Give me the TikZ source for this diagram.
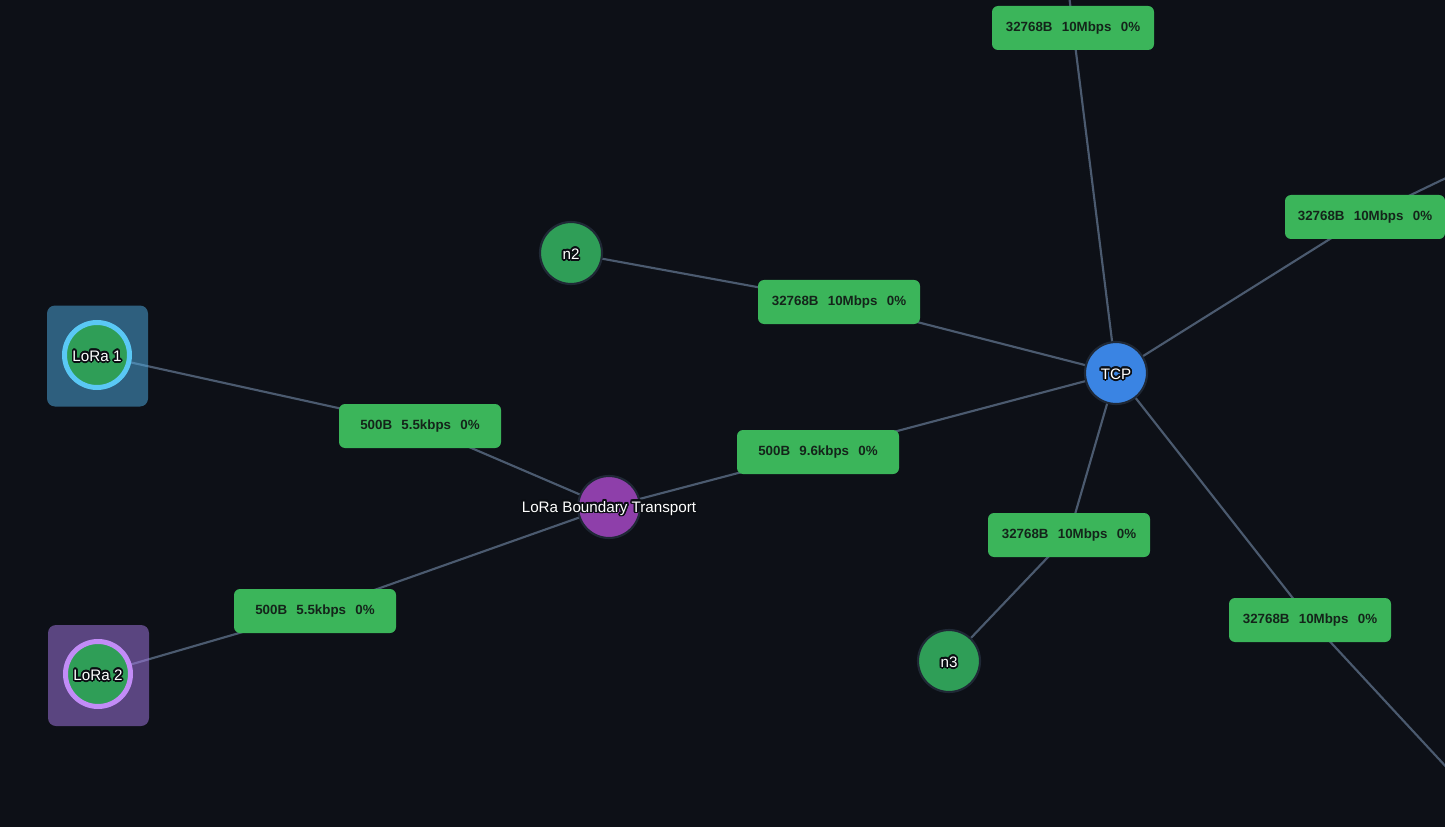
\documentclass[tikz,border=0pt]{standalone}
\usepackage{fontspec}
\setmainfont{Liberation Sans}
\usepackage{contour}
\contourlength{1.3pt}

\definecolor{bgdark}{HTML}{0D1017}
\definecolor{wirecol}{HTML}{4B5A6F}
\definecolor{lblgreen}{HTML}{3BB55A}
\definecolor{lbltext}{HTML}{14241A}
\definecolor{nodegreen}{HTML}{2F9E57}
\definecolor{ringdark}{HTML}{1F2835}
\definecolor{tcpblue}{HTML}{3A84E3}
\definecolor{bdrpurple}{HTML}{8E3FAA}
\definecolor{loraAbox}{HTML}{4FAEE5}
\definecolor{loraAring}{HTML}{5AC8F5}
\definecolor{loraBbox}{HTML}{A77AE9}
\definecolor{loraBring}{HTML}{C28CF7}
\definecolor{halo}{HTML}{0B0E13}

\pgfdeclarelayer{bg}
\pgfdeclarelayer{edges}
\pgfsetlayers{bg,edges,main}

\newcommand{\linkstat}[3]{\raisebox{-1pt}{#1\hspace{0.7em}#2\hspace{0.7em}#3}}

\begin{document}
\begin{tikzpicture}[x=0.75pt,y=-0.75pt,
  nametag/.style={text=white,font=\fontsize{11.4}{13}\selectfont,inner sep=0pt,yshift=-1.5pt},
  peer/.style={circle,draw=ringdark,line width=1.6pt,minimum size=46.5pt,inner sep=0pt},
  lora/.style={peer,fill=nodegreen,line width=3.75pt,minimum size=48.75pt},
  loracard/.style={rounded corners=6pt,minimum size=75.75pt,inner sep=0pt,fill opacity=0.5},
  lbl/.style={fill=lblgreen,rounded corners=4.5pt,minimum width=121.5pt,minimum height=33pt,
    inner sep=0pt,text=lbltext,font=\bfseries\fontsize{10}{12}\selectfont},
  wire/.style={draw=wirecol,line width=1.6pt}]
  \useasboundingbox (0,0) rectangle (1445,827);
  \begin{pgfonlayer}{bg}
    \fill[bgdark] (0,0) rectangle (1445,827);
  \end{pgfonlayer}

  % LoRa interfaces
  \node[loracard,fill=loraAbox] (cardA) at (97.5,356) {};
  \node[loracard,fill=loraBbox] (cardB) at (98.5,675.5) {};
  \node[lora,draw=loraAring,label={[nametag]center:\contour{halo}{LoRa 1}}] (lora1) at (97,355) {};
  \node[lora,draw=loraBring,label={[nametag]center:\contour{halo}{LoRa 2}}] (lora2) at (98,674) {};

  % peers
  \node[peer,fill=bdrpurple,label={[nametag]center:\contour{halo}{LoRa Boundary Transport}}] (lbt) at (609,507) {};
  \node[peer,fill=tcpblue,label={[nametag]center:\contour{halo}{TCP}}] (tcp) at (1116,373) {};
  \node[peer,fill=nodegreen,label={[nametag]center:\contour{halo}{n2}}] (n2) at (571,253) {};
  \node[peer,fill=nodegreen,label={[nametag]center:\contour{halo}{n3}}] (n3) at (949,661) {};

  % link labels
  \node[lbl] (l1) at (420,426) {\linkstat{500B}{5.5kbps}{0\%}};
  \node[lbl] (l2) at (315,611) {\linkstat{500B}{5.5kbps}{0\%}};
  \node[lbl] (l3) at (818,452) {\linkstat{500B}{9.6kbps}{0\%}};
  \node[lbl] (l4) at (839,302) {\linkstat{32768B}{10Mbps}{0\%}};
  \node[lbl] (l5) at (1073,28) {\linkstat{32768B}{10Mbps}{0\%}};
  \node[lbl,minimum width=120pt] (l6) at (1365,217) {\linkstat{32768B}{10Mbps}{0\%}};
  \node[lbl] (l7) at (1069,535) {\linkstat{32768B}{10Mbps}{0\%}};
  \node[lbl] (l8) at (1310,620) {\linkstat{32768B}{10Mbps}{0\%}};

  % links leaving the view
  \coordinate (upout) at (1066,-30);
  \coordinate (rightout) at (1500,152);
  \coordinate (downout) at (1500,825);

  \begin{pgfonlayer}{edges}
    \draw[wire] (lora1.center) -- (l1.center) -- (lbt.center);
    \draw[wire] (lora2.center) -- (l2.center) -- (lbt.center);
    \draw[wire] (lbt.center) -- (l3.center) -- (tcp.center);
    \draw[wire] (n2.center) -- (l4.center) -- (tcp.center);
    \draw[wire] (tcp.center) -- (l5.center) -- (upout);
    \draw[wire] (tcp.center) -- (l6.center) -- (rightout);
    \draw[wire] (tcp.center) -- (l7.center) -- (n3.center);
    \draw[wire] (tcp.center) -- (l8.center) -- (downout);
  \end{pgfonlayer}
\end{tikzpicture}
\end{document}
